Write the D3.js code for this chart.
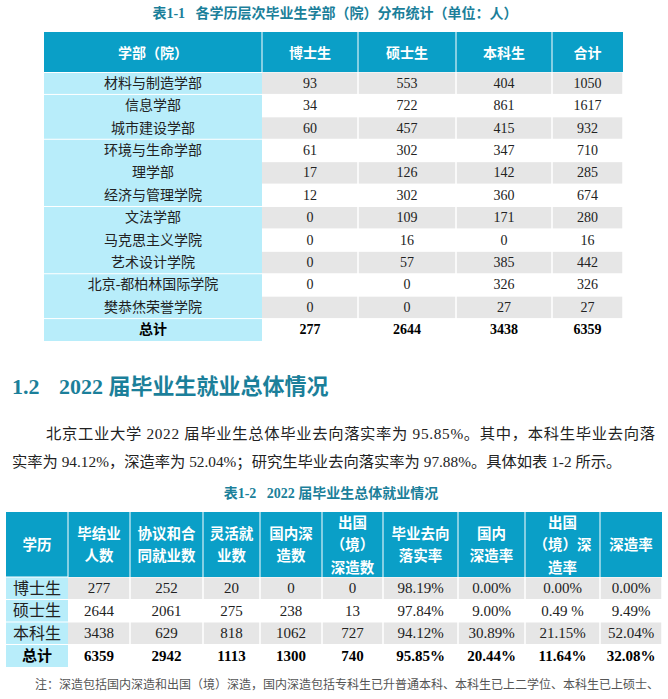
<!DOCTYPE html>
<html><head><meta charset="utf-8">
<script src="https://cdn.jsdelivr.net/npm/d3@7"></script>
<style>
html,body{margin:0;padding:0;background:#fff;}
svg{display:block;}
</style></head>
<body>
<script>
// ---------- Table 1 data ----------
const header1 = ["学部（院）", "博士生", "硕士生", "本科生", "合计"];
const depts = ["材料与制造学部", "信息学部", "城市建设学部", "环境与生命学部", "理学部", "经济与管理学院", "文法学部", "马克思主义学院", "艺术设计学院", "北京-都柏林国际学院", "樊恭烋荣誉学院"];
const phd1 = [93, 34, 60, 61, 17, 12, 0, 0, 0, 0, 0];
const master1 = [553, 722, 457, 302, 126, 302, 109, 16, 57, 0, 0];
const bachelor1 = [404, 861, 415, 347, 142, 360, 171, 0, 385, 326, 27];
const sum1 = [1050, 1617, 932, 710, 285, 674, 280, 16, 442, 326, 27];
const totalLabel = "总计";
const totals1 = [277, 2644, 3438, 6359];

// ---------- Table 2 data ----------
const header2 = [["学历"], ["毕结业", "人数"], ["协议和合", "同就业数"], ["灵活就", "业数"], ["国内深", "造数"], ["出国", "（境）", "深造数"], ["毕业去向", "落实率"], ["国内", "深造率"], ["出国", "（境）深", "造率"], ["深造率"]];
const levels = ["博士生", "硕士生", "本科生"];
const graduates = [277, 2644, 3438];
const contracted = [252, 2061, 629];
const flexible = [20, 275, 818];
const domesticStudy = [0, 238, 1062];
const abroadStudy = [0, 13, 727];
const placementRate = ["98.19%", "97.84%", "94.12%"];
const domesticRate = ["0.00%", "9.00%", "30.89%"];
const abroadRate = ["0.00%", "0.49 %", "21.15%"];
const furtherRate = ["0.00%", "9.49%", "52.04%"];
const totals2 = ["6359", "2942", "1113", "1300", "740", "95.85%", "20.44%", "11.64%", "32.08%"];

// ---------- Texts ----------
const title1 = "表1-1   各学历层次毕业生学部（院）分布统计（单位：人）";
const sectionNo = "1.2";
const sectionTitle = "2022 届毕业生就业总体情况";
const para1 = "北京工业大学 2022 届毕业生总体毕业去向落实率为 95.85%。其中，本科生毕业去向落";
const para2 = "实率为 94.12%，深造率为 52.04%；研究生毕业去向落实率为 97.88%。具体如表 1-2 所示。";
const title2 = "表1-2   2022 届毕业生总体就业情况";
const note = "注：深造包括国内深造和出国（境）深造，国内深造包括专科生已升普通本科、本科生已上二学位、本科生已上硕士、";

// ---------- Style ----------
const W = 668, H = 699;
const C_HEAD = "#0a9fc7", C_FIRST = "#b8edfa", C_GRAY = "#e6e6e6", C_TEAL = "#1b7f9a", C_TEXT = "#222";
const FONT = "'Liberation Serif','Noto Sans CJK SC',serif";
const FONT_B = "'Liberation Serif','Noto Sans CJK SC',sans-serif";

const svg = d3.select("body").append("svg").attr("width", W).attr("height", H)
  .style("font-family", FONT);
svg.append("rect").attr("width", W).attr("height", H).attr("fill", "#fff");

function txt(g, x, y, s, size, opts = {}) {
  return g.append("text").attr("x", x).attr("y", y)
    .attr("text-anchor", opts.anchor || "middle")
    .attr("dominant-baseline", "central")
    .attr("font-size", size)
    .attr("font-weight", opts.bold ? 700 : 400)
    .attr("fill", opts.fill || C_TEXT)
    .style("font-family", opts.bold ? FONT_B : FONT)
    .text(s);
}

// ---------- Table 1 ----------
txt(svg, 335, 13, title1, 14, { bold: true, fill: C_TEAL }).style("white-space", "pre");

const edges1 = [44, 262, 358, 456, 552, 623];
const x1 = d3.scaleOrdinal().domain(d3.range(5)).range(edges1.slice(0, 5));
const w1 = i => edges1[i + 1] - edges1[i];
const rows1 = depts.map((d, i) => [d, phd1[i], master1[i], bachelor1[i], sum1[i]]);
rows1.push([totalLabel, ...totals1]);
const y1 = d3.scaleBand().domain(d3.range(rows1.length)).range([72, 341]);

const t1 = svg.append("g");
t1.append("rect").attr("x", edges1[0]).attr("y", 32).attr("width", edges1[5] - edges1[0]).attr("height", 40).attr("fill", C_HEAD);
header1.forEach((h, i) => {
  if (i > 0) t1.append("rect").attr("x", x1(i) - 0.5).attr("y", 32).attr("width", 1).attr("height", 40).attr("fill", "#fff");
  txt(t1, x1(i) + w1(i) / 2, 53, h, 14, { bold: true, fill: "#fff" });
});
t1.append("rect").attr("x", edges1[0]).attr("y", y1(0)).attr("width", w1(0)).attr("height", y1.range()[1] - y1(0)).attr("fill", C_FIRST);
rows1.forEach((r, i) => {
  if (i % 2 === 0 && i < rows1.length - 1) {
    for (let c = 1; c < 5; c++) {
      t1.append("rect").attr("x", x1(c) + (c === 1 ? 0 : 0.75)).attr("y", y1(i) + 0.5)
        .attr("width", w1(c) - (c === 1 ? 0.75 : 1.5)).attr("height", y1.bandwidth() - 1).attr("fill", C_GRAY);
    }
  }
});
[1, 3, 6, 9, 11].forEach(i => {
  t1.append("rect").attr("x", edges1[0]).attr("y", y1(i) - 0.5).attr("width", w1(0)).attr("height", 1).attr("fill", "#fff");
});
t1.append("rect").attr("x", edges1[0]).attr("y", 72).attr("width", w1(0)).attr("height", 1).attr("fill", "#fff");
rows1.forEach((r, i) => {
  const bold = i === rows1.length - 1;
  r.forEach((v, c) => {
    txt(t1, x1(c) + w1(c) / 2, y1(i) + y1.bandwidth() / 2, String(v), 14, { bold, fill: bold ? "#000" : "#222" });
  });
});

// ---------- Section 1.2 ----------
txt(svg, 12, 386, sectionNo, 22, { anchor: "start", bold: true, fill: C_TEAL });
txt(svg, 59, 386, sectionTitle, 22, { anchor: "start", bold: true, fill: C_TEAL });
txt(svg, 46, 433, para1, 15.3, { anchor: "start" }).attr("textLength", 609).attr("lengthAdjust", "spacing");
txt(svg, 12, 461, para2, 15.3, { anchor: "start" });
txt(svg, 331, 493, title2, 14, { bold: true, fill: C_TEAL }).style("white-space", "pre");

// ---------- Table 2 ----------
const edges2 = [6, 68, 130, 203, 260, 322, 383, 458, 525, 600, 662];
const x2 = d3.scaleOrdinal().domain(d3.range(10)).range(edges2.slice(0, 10));
const w2 = i => edges2[i + 1] - edges2[i];
const rows2 = levels.map((l, i) => [l, graduates[i], contracted[i], flexible[i], domesticStudy[i], abroadStudy[i], placementRate[i], domesticRate[i], abroadRate[i], furtherRate[i]]);
rows2.push([totalLabel, ...totals2]);
const y2 = d3.scaleBand().domain(d3.range(rows2.length)).range([577, 667]);

const t2 = svg.append("g");
t2.append("rect").attr("x", edges2[0]).attr("y", 512).attr("width", edges2[10] - edges2[0]).attr("height", 65).attr("fill", C_HEAD);
header2.forEach((lines, i) => {
  if (i > 0) t2.append("rect").attr("x", x2(i) - 0.5).attr("y", 512).attr("width", 1).attr("height", 65).attr("fill", "#fff");
  const n = lines.length, cy = 545, lh = 22.5;
  lines.forEach((s, k) => {
    txt(t2, x2(i) + w2(i) / 2, cy + (k - (n - 1) / 2) * lh, s, 14.5, { bold: true, fill: "#fff" });
  });
});
t2.append("rect").attr("x", edges2[0]).attr("y", 577).attr("width", w2(0)).attr("height", 90).attr("fill", C_FIRST);
rows2.forEach((r, i) => {
  if (i % 2 === 0 && i < rows2.length - 1) {
    for (let c = 1; c < 10; c++) {
      t2.append("rect").attr("x", x2(c) + (c === 1 ? 0 : 0.75)).attr("y", y2(i) + 0.5)
        .attr("width", w2(c) - (c === 1 ? 0.75 : 1.5)).attr("height", y2.bandwidth() - 1).attr("fill", C_GRAY);
    }
  }
});
d3.range(4).forEach(i => {
  t2.append("rect").attr("x", edges2[0]).attr("y", y2(i) - 0.5).attr("width", w2(0)).attr("height", 1).attr("fill", "#fff");
});
rows2.forEach((r, i) => {
  const bold = i === rows2.length - 1;
  r.forEach((v, c) => {
    txt(t2, x2(c) + w2(c) / 2, y2(i) + y2.bandwidth() / 2, String(v), c === 0 && !bold ? 16 : 15, { bold, fill: bold ? "#000" : "#222" });
  });
});

// ---------- Note ----------
txt(svg, 35, 685, note, 12, { anchor: "start", fill: "#555" });
</script>
</body></html>
